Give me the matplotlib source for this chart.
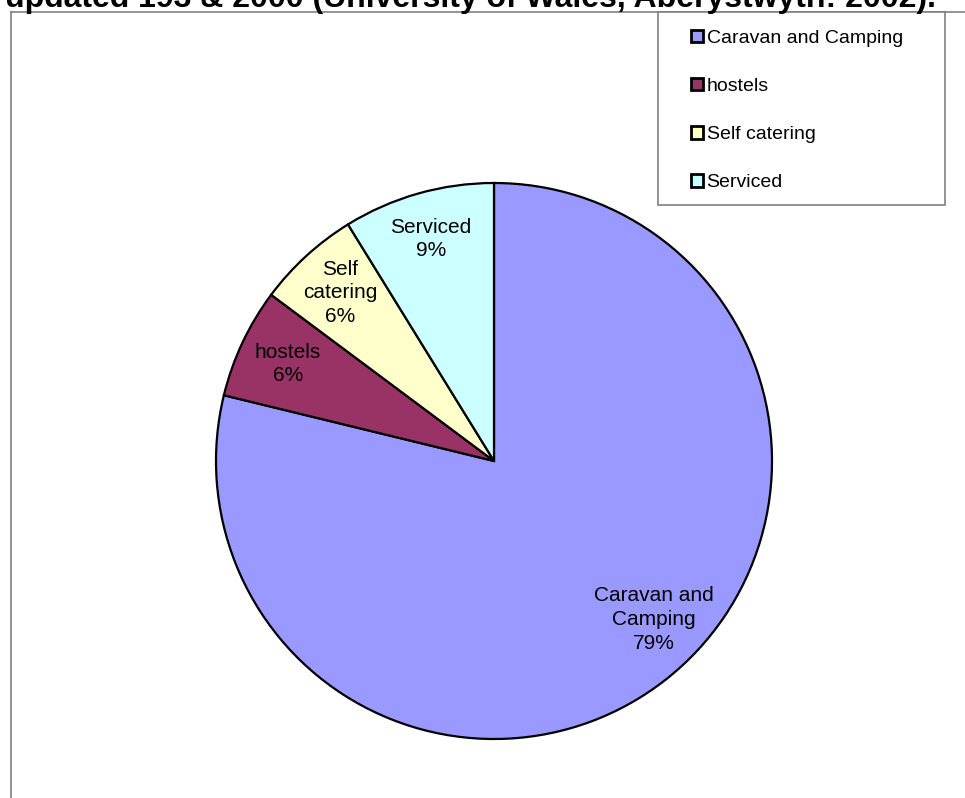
import numpy as np
import matplotlib
matplotlib.use("Agg")
import matplotlib.pyplot as plt
from matplotlib.patches import Rectangle
from matplotlib.lines import Line2D

plt.rcParams['font.family'] = ['Liberation Sans', 'DejaVu Sans']

# accommodation share (percent)
categories = ["Caravan and Camping", "hostels", "Self catering", "Serviced"]
label_names = ["Caravan and\nCamping", "hostels", "Self\ncatering", "Serviced"]
shares = [78.8, 6.4, 6.0, 8.8]
colors = ["#9999FF", "#993366", "#FFFFCC", "#CCFFFF"]
title = "updated 193 & 2000 (University of Wales, Aberystwyth: 2002)."

W, H = 965, 798
fig = plt.figure(figsize=(W / 100, H / 100), dpi=100)
ax = fig.add_axes([0, 0, 1, 1])

# pie centred at (494, 461) px, radius 278 px
cx, cy, r = 494, H - 461, 278
wedges, _ = ax.pie(shares, colors=colors, startangle=90, counterclock=False,
                   center=(cx, cy), radius=r,
                   wedgeprops=dict(edgecolor="black", linewidth=1.6))
# pie() resets the limits, so put pixel units back afterwards
ax.set_xlim(0, W)
ax.set_ylim(0, H)
ax.set_aspect("equal")
ax.axis("off")

# Excel nudges the big slice's label away from its mid angle
angle_shift = [7, 0, 0, 0]
label_frac = [0.81, 0.82, 0.82, 0.83]
total = sum(shares)
for w, name, val, sh, fr in zip(wedges, label_names, shares, angle_shift, label_frac):
    mid = np.deg2rad((w.theta1 + w.theta2) / 2 + sh)
    ax.text(cx + fr * r * np.cos(mid), cy + fr * r * np.sin(mid),
            f"{name}\n{val / total * 100:.0f}%",
            ha="center", va="center", fontsize=15, linespacing=1.32, color="black")

# plot-area frame (cut off at right and bottom)
fig.add_artist(Line2D([11 / W, 1], [1 - 12 / H, 1 - 12 / H],
                      transform=fig.transFigure, color="#808080", lw=1.2))
fig.add_artist(Line2D([11 / W, 11 / W], [0, 1 - 12 / H],
                      transform=fig.transFigure, color="#808080", lw=1.2))

# legend box
fig.add_artist(Rectangle((658 / W, 1 - 205 / H), 287 / W, 193 / H,
                         transform=fig.transFigure, facecolor="white",
                         edgecolor="#808080", lw=1.2, zorder=3))
leg = fig.legend(wedges, categories, loc="upper left",
                 bbox_to_anchor=(691 / W, 1 - 30 / H), frameon=False,
                 fontsize=14, handlelength=0.6, handleheight=0.6,
                 handletextpad=0.2, labelspacing=1.6, borderpad=0,
                 borderaxespad=0)
for h in leg.legend_handles:
    h.set_linewidth(2.0)
leg.set_zorder(4)

# title, mostly above the visible area
fig.text(5 / W, 1 - 7 / H, title, ha="left", va="baseline",
         fontsize=23, fontweight="bold")

fig.savefig("out.png", dpi=100)
